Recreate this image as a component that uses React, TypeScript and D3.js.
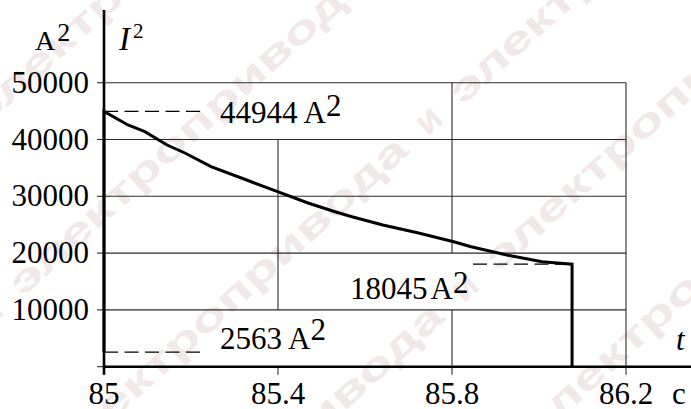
import React from "react";
import * as d3 from "d3";

// Time (s) and squared current (A^2) along the working stroke
const timeValues = [
  85.0, 85.055, 85.094, 85.145, 85.186, 85.246, 85.328, 85.399, 85.469, 85.531,
  85.57, 85.641, 85.723, 85.804, 85.844, 85.926, 86.007, 86.076,
];
const currentSq = [
  44944, 42553, 41373, 39032, 37623, 35211, 32870, 30810, 28820, 27289,
  26408, 24947, 23539, 22007, 21127, 19665, 18486, 18045,
];
const startCurrentSq = 2563;

const xTicks = [85, 85.4, 85.8, 86.2];
const xTickLabels = ["85", "85.4", "85.8", "86.2"];
const yTicks = [0, 10000, 20000, 30000, 40000, 50000];
const yTickLabels = ["", "10000", "20000", "30000", "40000", "50000"];

// Vertical grid segments left open where the value labels sit: [t, from, to]
const vGridGaps: [number, number, number][] = [
  [85.4, 40000, 50000],
  [85.4, 0, 10000],
  [85.8, 10000, 20000],
];

// Background stamp text
const stampWord = "электропривода";
const stampJoin = "и";
const stampRows = [70, 222, 374, 522, 672];
const stampPhase = [408, 323, 238, 153, 68];

const W = 691;
const H = 409;
const SERIF = "'Liberation Serif', 'Times New Roman', serif";
const SANS = "'Liberation Sans', Arial, sans-serif";

export default function App() {
  const x = d3.scaleLinear().domain([85, 86.2]).range([104, 626]);
  const y = d3.scaleLinear().domain([0, 50000]).range([366.7, 82.7]);

  const tEnd = timeValues[timeValues.length - 1];
  const pts: [number, number][] = [
    [85, startCurrentSq],
    ...timeValues.map((t, i) => [t, currentSq[i]] as [number, number]),
    [tEnd, 0],
  ];
  const line = d3
    .line<[number, number]>()
    .x((d) => x(d[0]))
    .y((d) => y(d[1]));

  // vertical grid segments split by gaps
  const vSegs: { t: number; a: number; b: number }[] = [];
  xTicks.slice(1).forEach((t) => {
    const gaps = vGridGaps.filter((g) => g[0] === t).sort((p, q) => p[1] - q[1]);
    let from = 0;
    gaps.forEach((g) => {
      if (g[1] > from) vSegs.push({ t, a: from, b: g[1] });
      from = g[2];
    });
    if (from < 50000) vSegs.push({ t, a: from, b: 50000 });
  });

  const period = 540;
  const stamp: React.ReactNode[] = [];
  stampRows.forEach((v, r) => {
    for (let k = -1; k <= 1; k++) {
      const u = stampPhase[r] + k * period;
      stamp.push(
        <text key={`j${r}_${k}`} x={u} y={v + 14} textAnchor="middle">
          {stampJoin}
        </text>
      );
      stamp.push(
        <text
          key={`w${r}_${k}`}
          x={u + period / 2 - 235}
          y={v + 14}
          textLength={470}
          lengthAdjust="spacingAndGlyphs"
        >
          {stampWord}
        </text>
      );
    }
  });

  const dashed = { stroke: "#000", strokeWidth: 1.3, strokeDasharray: "14,6.5" };
  const yMaxAxis = 10;

  return (
    <svg
      width={W}
      height={H}
      style={{ position: "absolute", left: 0, top: 0, background: "#fff" }}
    >
      <rect width={W} height={H} fill="#fff" />
      <g
        transform="rotate(-42)"
        fill="#f1e8e9"
        fontFamily={SANS}
        fontWeight={700}
        fontSize={38}
      >
        {stamp}
      </g>

      {/* grid */}
      <g stroke="#2a2a2a" strokeWidth={1.1}>
        {yTicks.slice(1).map((v) => (
          <line key={v} x1={x(85)} x2={x(86.2)} y1={y(v)} y2={y(v)} />
        ))}
        {vSegs.map((s, i) => (
          <line key={i} x1={x(s.t)} x2={x(s.t)} y1={y(s.a)} y2={y(s.b)} />
        ))}
        {xTicks.slice(1).map((t) => (
          <line key={t} x1={x(t)} x2={x(t)} y1={y(0)} y2={y(0) + 8} />
        ))}
        {yTicks.map((v) => (
          <line key={v} x1={x(85) - 7} x2={x(85)} y1={y(v)} y2={y(v)} />
        ))}
      </g>

      {/* axes */}
      <line x1={x(85)} x2={x(85)} y1={yMaxAxis} y2={y(0) + 8} stroke="#000" strokeWidth={2.6} />
      <line x1={x(85) - 1} x2={W} y1={y(0)} y2={y(0)} stroke="#000" strokeWidth={2.6} />

      {/* reference levels */}
      <line x1={x(85)} x2={202} y1={y(44944)} y2={y(44944)} {...dashed} />
      <line x1={x(85)} x2={202} y1={y(startCurrentSq)} y2={y(startCurrentSq)} {...dashed} />
      <line x1={473} x2={x(tEnd)} y1={y(18045)} y2={y(18045)} {...dashed} />

      {/* I^2(t) */}
      <path d={line(pts) ?? ""} fill="none" stroke="#000" strokeWidth={3} strokeLinejoin="miter" />

      {/* tick labels and value notes */}
      <g fill="#000" fontFamily={SERIF} fontSize={31}>
        {yTicks.map((v, i) => (
          <text key={v} x={89} y={y(v) + 10} textAnchor="end">
            {yTickLabels[i]}
          </text>
        ))}
        {xTicks.map((t, i) => (
          <text key={t} x={x(t)} y={404} textAnchor="middle">
            {xTickLabels[i]}
          </text>
        ))}
        <text x={672} y={404}>c</text>
        <text x={676} y={350} fontStyle="italic">t</text>

        <text x={220} y={123}>
          44944 A<tspan dy={-7}>2</tspan>
        </text>
        <text x={220} y={349}>
          2563 A<tspan dy={-9}>2</tspan>
        </text>
        <text x={350} y={299}>
          18045<tspan dx={3}>A</tspan>
          <tspan dy={-6}>2</tspan>
        </text>
      </g>

      {/* axis captions */}
      <text x={35} y={50} fontFamily={SERIF} fontSize={28}>
        A<tspan dy={-9} dx={2} fontSize={26}>2</tspan>
      </text>
      <text x={119} y={50} fontFamily={SERIF} fontSize={33} fontStyle="italic">
        I<tspan dy={-12} dx={3} fontSize={21} fontStyle="normal">2</tspan>
      </text>
    </svg>
  );
}
